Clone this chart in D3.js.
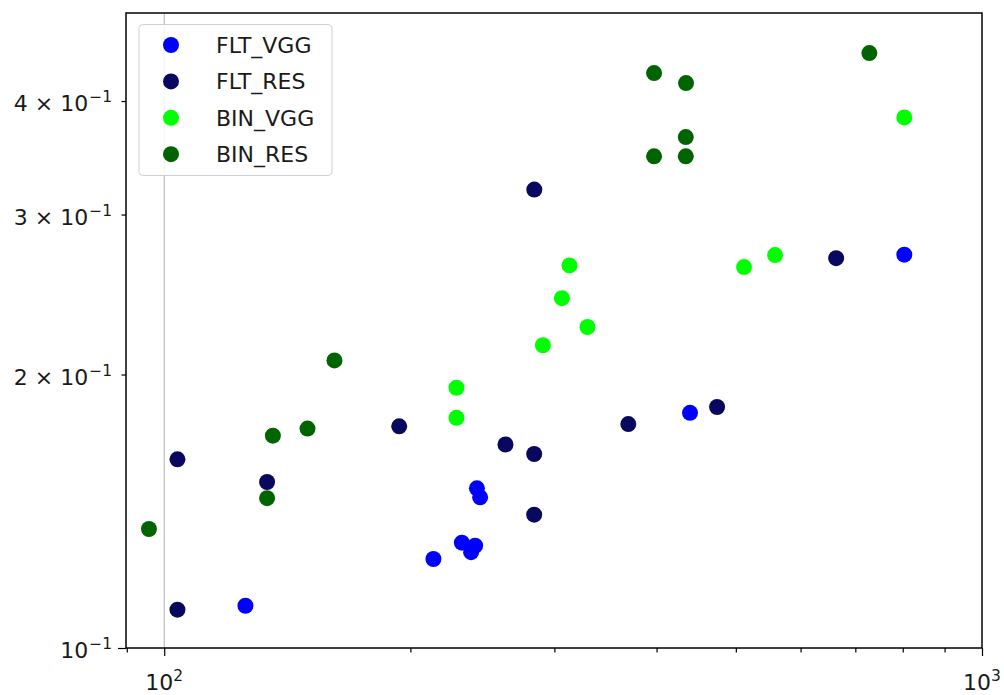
<!DOCTYPE html>
<html>
<head>
<meta charset="utf-8">
<script src="https://cdn.jsdelivr.net/npm/d3@7/dist/d3.min.js"></script>
<style>
  html, body { margin: 0; padding: 0; background: #fff; }
  svg { display: block; font-family: "DejaVu Sans", sans-serif; }
</style>
</head>
<body>
<svg id="chart" width="1004" height="695"></svg>
<script>
// Series names and colours
const seriesNames = ["FLT_VGG", "FLT_RES", "BIN_VGG", "BIN_RES"];
const seriesColors = ["#0000ff", "#08085e", "#00ff00", "#006400"];

// Data (log-log): x values and y values per series
const fltVggX = [125.7, 213.4, 231.2, 240.0, 237.3, 241.2, 243.4, 439.5, 803.5];
const fltVggY = [0.1113, 0.1253, 0.1306, 0.1296, 0.1275, 0.1499, 0.1465, 0.1815, 0.2710];

const fltResX = [103.8, 103.8, 133.6, 193.8, 261.4, 283.4, 283.4, 283.5, 369.4, 474.3, 663.2];
const fltResY = [0.1613, 0.1102, 0.1523, 0.1754, 0.1675, 0.1635, 0.1402, 0.3196, 0.1764, 0.1842, 0.2686];

const binVggX = [313.0, 306.4, 329.3, 290.4, 227.7, 227.7, 511.7, 558.4, 803.5];
const binVggY = [0.2637, 0.2427, 0.2256, 0.2154, 0.1934, 0.1792, 0.2626, 0.2707, 0.3837];

const binResX = [161.5, 135.8, 149.7, 133.6, 95.8, 728.2, 397.2, 434.6, 434.3, 397.2, 434.3];
const binResY = [0.2073, 0.1713, 0.1744, 0.1462, 0.1352, 0.4517, 0.4294, 0.4186, 0.3651, 0.3477, 0.3477];

// Axis ticks
const xMajorTicks = [100, 1000];
const xMajorExp = ["2", "3"];
const xMinorTicks = [90, 200, 300, 400, 500, 600, 700, 800, 900];
const yMajorTicks = [0.1];
const yMinorTicks = [0.2, 0.3, 0.4];
const yTickMantissa = ["", "2", "3", "4"];
const yTickValues = [0.1, 0.2, 0.3, 0.4];

const series = [
  { name: seriesNames[0], color: seriesColors[0], xs: fltVggX, ys: fltVggY },
  { name: seriesNames[1], color: seriesColors[1], xs: fltResX, ys: fltResY },
  { name: seriesNames[2], color: seriesColors[2], xs: binVggX, ys: binVggY },
  { name: seriesNames[3], color: seriesColors[3], xs: binResX, ys: binResY }
];

const svg = d3.select("#chart");
const plotLeft = 126, plotRight = 982, plotTop = 13, plotBottom = 648;

const x = d3.scaleLog().domain([89.8, 1000]).range([plotLeft, plotRight]);
const y = d3.scaleLog().domain([0.1, 0.5]).range([plotBottom, plotTop]);

const textColor = "#1a1a1a";
const fontSize = 22;

// Vertical grid line at the major x tick inside the plot
svg.append("g")
  .selectAll("line")
  .data(xMajorTicks.filter(d => x(d) > plotLeft + 1 && x(d) < plotRight - 1))
  .join("line")
  .attr("x1", d => x(d)).attr("x2", d => x(d))
  .attr("y1", plotTop).attr("y2", plotBottom)
  .attr("stroke", "#b0b0b0").attr("stroke-width", 1);

// Scatter points
const plot = svg.append("g");
series.forEach(s => {
  plot.append("g")
    .selectAll("circle")
    .data(s.xs.map((v, i) => [v, s.ys[i]]))
    .join("circle")
    .attr("cx", d => x(d[0]))
    .attr("cy", d => y(d[1]))
    .attr("r", 8)
    .attr("fill", s.color);
});

// Axes: major and minor ticks
function styleAxis(g) {
  g.select(".domain").remove();
  g.selectAll(".tick line").attr("stroke", "#000").attr("stroke-width", 1.2);
  g.selectAll(".tick text").remove();
}
svg.append("g").attr("transform", `translate(0,${plotBottom})`)
  .call(d3.axisBottom(x).tickValues(xMajorTicks).tickSize(8)).call(styleAxis);
svg.append("g").attr("transform", `translate(0,${plotBottom})`)
  .call(d3.axisBottom(x).tickValues(xMinorTicks).tickSize(4.5)).call(styleAxis);
svg.append("g").attr("transform", `translate(${plotLeft},0)`)
  .call(d3.axisLeft(y).tickValues(yMajorTicks).tickSize(8)).call(styleAxis);
svg.append("g").attr("transform", `translate(${plotLeft},0)`)
  .call(d3.axisLeft(y).tickValues(yMinorTicks).tickSize(4.5)).call(styleAxis);

// Spines
svg.append("rect")
  .attr("x", plotLeft).attr("y", plotTop)
  .attr("width", plotRight - plotLeft).attr("height", plotBottom - plotTop)
  .attr("fill", "none").attr("stroke", "#000").attr("stroke-width", 1.5);

// X tick labels: 10^n
xMajorTicks.forEach((v, i) => {
  const t = svg.append("text")
    .attr("x", x(v)).attr("y", 690)
    .attr("text-anchor", "middle")
    .attr("font-size", fontSize).attr("fill", textColor);
  t.append("tspan").text("10");
  t.append("tspan").attr("dy", -9).attr("font-size", 15.5).text(xMajorExp[i]);
});

// Y tick labels: m × 10^-1
yTickValues.forEach((v, i) => {
  const t = svg.append("text")
    .attr("x", 112).attr("y", y(v) + 10)
    .attr("text-anchor", "end")
    .attr("font-size", fontSize).attr("fill", textColor);
  if (yTickMantissa[i]) {
    t.append("tspan").text(yTickMantissa[i] + " × ");
  }
  t.append("tspan").text("10");
  t.append("tspan").attr("dx", 1).attr("dy", -9).attr("font-size", 15.5).text("−1");
});

// Legend
const legend = svg.append("g");
legend.append("rect")
  .attr("x", 139).attr("y", 24.5)
  .attr("width", 193).attr("height", 151)
  .attr("rx", 4).attr("ry", 4)
  .attr("fill", "#fff").attr("fill-opacity", 0.8)
  .attr("stroke", "#d0d0d0").attr("stroke-width", 1);
series.forEach((s, i) => {
  const cy = 45 + i * 36.4;
  legend.append("circle").attr("cx", 171).attr("cy", cy).attr("r", 8).attr("fill", s.color);
  legend.append("text")
    .attr("x", 216).attr("y", cy + 8)
    .attr("font-size", fontSize).attr("fill", textColor)
    .text(s.name);
});
</script>
</body>
</html>
